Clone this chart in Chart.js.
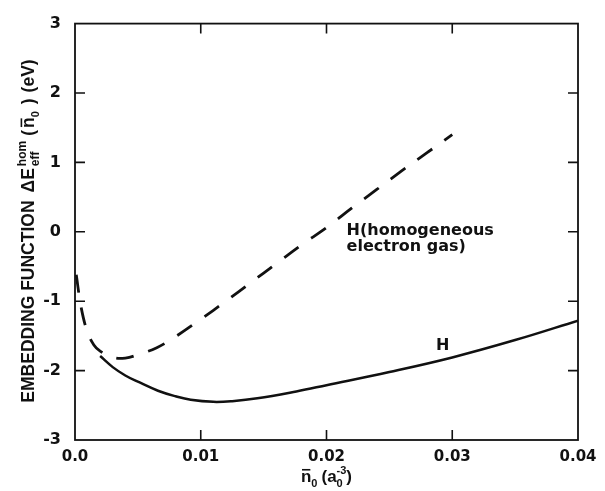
<!DOCTYPE html>
<html>
<head>
<meta charset="utf-8">
<script src="https://cdn.jsdelivr.net/npm/chart.js@4.4.1/dist/chart.umd.min.js"></script>
<style>
  html, body { margin: 0; padding: 0; background: #fff; }
  #wrap { width: 605px; height: 491px; }
</style>
</head>
<body>
<div id="wrap"><canvas id="chart" width="605" height="491"></canvas></div>
<script>
// Embedding function vs. mean electron density

// solid curve: H
const densityH = [0.002, 0.003, 0.004, 0.005, 0.0066, 0.008, 0.0092, 0.011, 0.0125,
                  0.0145, 0.0176, 0.02, 0.025, 0.03, 0.035, 0.04];
const energyH  = [-1.79, -1.95, -2.07, -2.16, -2.29, -2.37, -2.42, -2.45, -2.44,
                  -2.40, -2.30, -2.21, -2.02, -1.81, -1.56, -1.28];

// dashed curve: H in the homogeneous electron gas
const densityHeg = [0.0001, 0.0005, 0.001, 0.0015, 0.002, 0.003, 0.004, 0.005, 0.0065,
                    0.008, 0.01, 0.012, 0.014, 0.016, 0.018, 0.02, 0.022, 0.024,
                    0.026, 0.028, 0.03];
const energyHeg  = [-0.62, -1.10, -1.45, -1.63, -1.72, -1.81, -1.82, -1.77, -1.67,
                    -1.51, -1.26, -1.00, -0.73, -0.46, -0.19, 0.06, 0.34, 0.61,
                    0.88, 1.14, 1.40];

const xTicks = [0, 0.01, 0.02, 0.03, 0.04];
const yTicks = [-3, -2, -1, 0, 1, 2, 3];

const TICK_FONT = '"DejaVu Sans", sans-serif';
const TITLE_FONT = '"Liberation Sans", Arial, sans-serif';
const INK = '#111';

const toPoints = (xs, ys) => xs.map((x, i) => ({ x, y: ys[i] }));

// rich text: runs of {t, size, dy, over, stack} or {gap}
function layoutRich(ctx, runs, x, y, draw) {
  let cx = x, pend = 0;
  runs.forEach(r => {
    if (r.gap) { cx += pend + r.gap; pend = 0; return; }
    ctx.font = `bold ${r.size}px ${TITLE_FONT}`;
    const rw = ctx.measureText(r.t).width;
    if (draw) {
      ctx.fillText(r.t, cx, y + (r.dy || 0));
      if (r.over) {
        ctx.beginPath();
        ctx.lineWidth = 1.6;
        const oy = y + (r.dy || 0) - r.size * 0.72;
        ctx.moveTo(cx + 1, oy);
        ctx.lineTo(cx + rw - 1, oy);
        ctx.stroke();
      }
    }
    if (r.stack) pend = Math.max(pend, rw);
    else { cx += Math.max(rw, pend); pend = 0; }
  });
  return cx + pend - x;
}

const yTitle = [
  { t: 'EMBEDDING FUNCTION', size: 17.5 },
  { gap: 8 },
  { t: '\u0394E', size: 17.5 },
  { gap: 2 },
  { t: 'hom', size: 12, dy: -8, stack: true },
  { t: 'eff', size: 12, dy: 5 },
  { gap: 5 },
  { t: '(', size: 17.5 },
  { gap: 2 },
  { t: 'n', size: 17.5, over: true },
  { t: '0', size: 11, dy: 5 },
  { gap: 7 },
  { t: ')', size: 17.5 },
  { gap: 6 },
  { t: '(eV)', size: 17.5 }
];
const xTitle = [
  { t: 'n', size: 17, over: true },
  { t: '0', size: 11, dy: 5 },
  { gap: 4 },
  { t: '(a', size: 17 },
  { t: '-3', size: 11, dy: -8, stack: true },
  { t: '0', size: 11, dy: 5 },
  { t: ')', size: 17 }
];

// curve labels, placed in data coordinates
const curveLabels = [
  { text: 'H(homogeneous', x: 0.0216, y: -0.05 },
  { text: 'electron gas)', x: 0.0216, y: -0.27 },
  { text: 'H', x: 0.0287, y: -1.70 }
];

const framePlugin = {
  id: 'frame',
  afterDraw(chart) {
    const { ctx, chartArea: a, scales: { x, y } } = chart;
    ctx.save();
    ctx.strokeStyle = INK;
    ctx.fillStyle = INK;
    ctx.lineWidth = 1.8;
    ctx.strokeRect(a.left, a.top, a.right - a.left, a.bottom - a.top);

    // inward ticks on all four sides
    const len = 10;
    ctx.lineWidth = 1.6;
    ctx.beginPath();
    xTicks.slice(1, -1).forEach(v => {
      const px = x.getPixelForValue(v);
      ctx.moveTo(px, a.bottom); ctx.lineTo(px, a.bottom - len);
      ctx.moveTo(px, a.top);    ctx.lineTo(px, a.top + len);
    });
    yTicks.slice(1, -1).forEach(v => {
      const py = y.getPixelForValue(v);
      ctx.moveTo(a.left, py);  ctx.lineTo(a.left + len, py);
      ctx.moveTo(a.right, py); ctx.lineTo(a.right - len, py);
    });
    ctx.stroke();

    // curve labels
    ctx.font = `bold 16px ${TICK_FONT}`;
    ctx.textAlign = 'left';
    ctx.textBaseline = 'alphabetic';
    curveLabels.forEach(l => {
      ctx.fillText(l.text, x.getPixelForValue(l.x), y.getPixelForValue(l.y));
    });

    // axis titles
    const xw = layoutRich(ctx, xTitle, 0, 0, false);
    layoutRich(ctx, xTitle, x.getPixelForValue(0.02) - xw / 2, 482, true);

    const yw = layoutRich(ctx, yTitle, 0, 0, false);
    ctx.translate(34, 231);
    ctx.rotate(-Math.PI / 2);
    layoutRich(ctx, yTitle, -yw / 2, 0, true);
    ctx.restore();
  }
};

new Chart(document.getElementById('chart'), {
  type: 'line',
  data: {
    datasets: [
      {
        label: 'H',
        data: toPoints(densityH, energyH),
        borderColor: INK,
        borderWidth: 2.5,
        pointRadius: 0,
        tension: 0.4,
        fill: false
      },
      {
        label: 'H (homogeneous electron gas)',
        data: toPoints(densityHeg, energyHeg),
        borderColor: INK,
        borderWidth: 2.8,
        borderDash: [18, 15.1],
        pointRadius: 0,
        tension: 0.4,
        fill: false
      }
    ]
  },
  options: {
    responsive: false,
    animation: false,
    layout: { padding: { left: 0, top: 16, right: 27, bottom: 0 } },
    plugins: { legend: { display: false }, tooltip: { enabled: false } },
    scales: {
      x: {
        type: 'linear',
        min: 0, max: 0.04,
        afterFit: s => { s.height = 51; },
        afterBuildTicks: s => { s.ticks = xTicks.map(v => ({ value: v })); },
        ticks: {
          color: INK,
          padding: 8,
          font: { family: TICK_FONT, size: 15, weight: 'bold' },
          callback: v => v === 0 ? '0.0' : v.toFixed(2)
        },
        grid: { display: false, drawTicks: false },
        border: { display: false }
      },
      y: {
        min: -3, max: 3,
        afterFit: s => { s.width = 75; },
        afterBuildTicks: s => { s.ticks = yTicks.map(v => ({ value: v })); },
        ticks: {
          color: INK,
          padding: 14,
          font: { family: TICK_FONT, size: 16, weight: 'bold' },
          callback: v => String(v)
        },
        grid: { display: false, drawTicks: false },
        border: { display: false }
      }
    }
  },
  plugins: [framePlugin]
});
</script>
</body>
</html>
